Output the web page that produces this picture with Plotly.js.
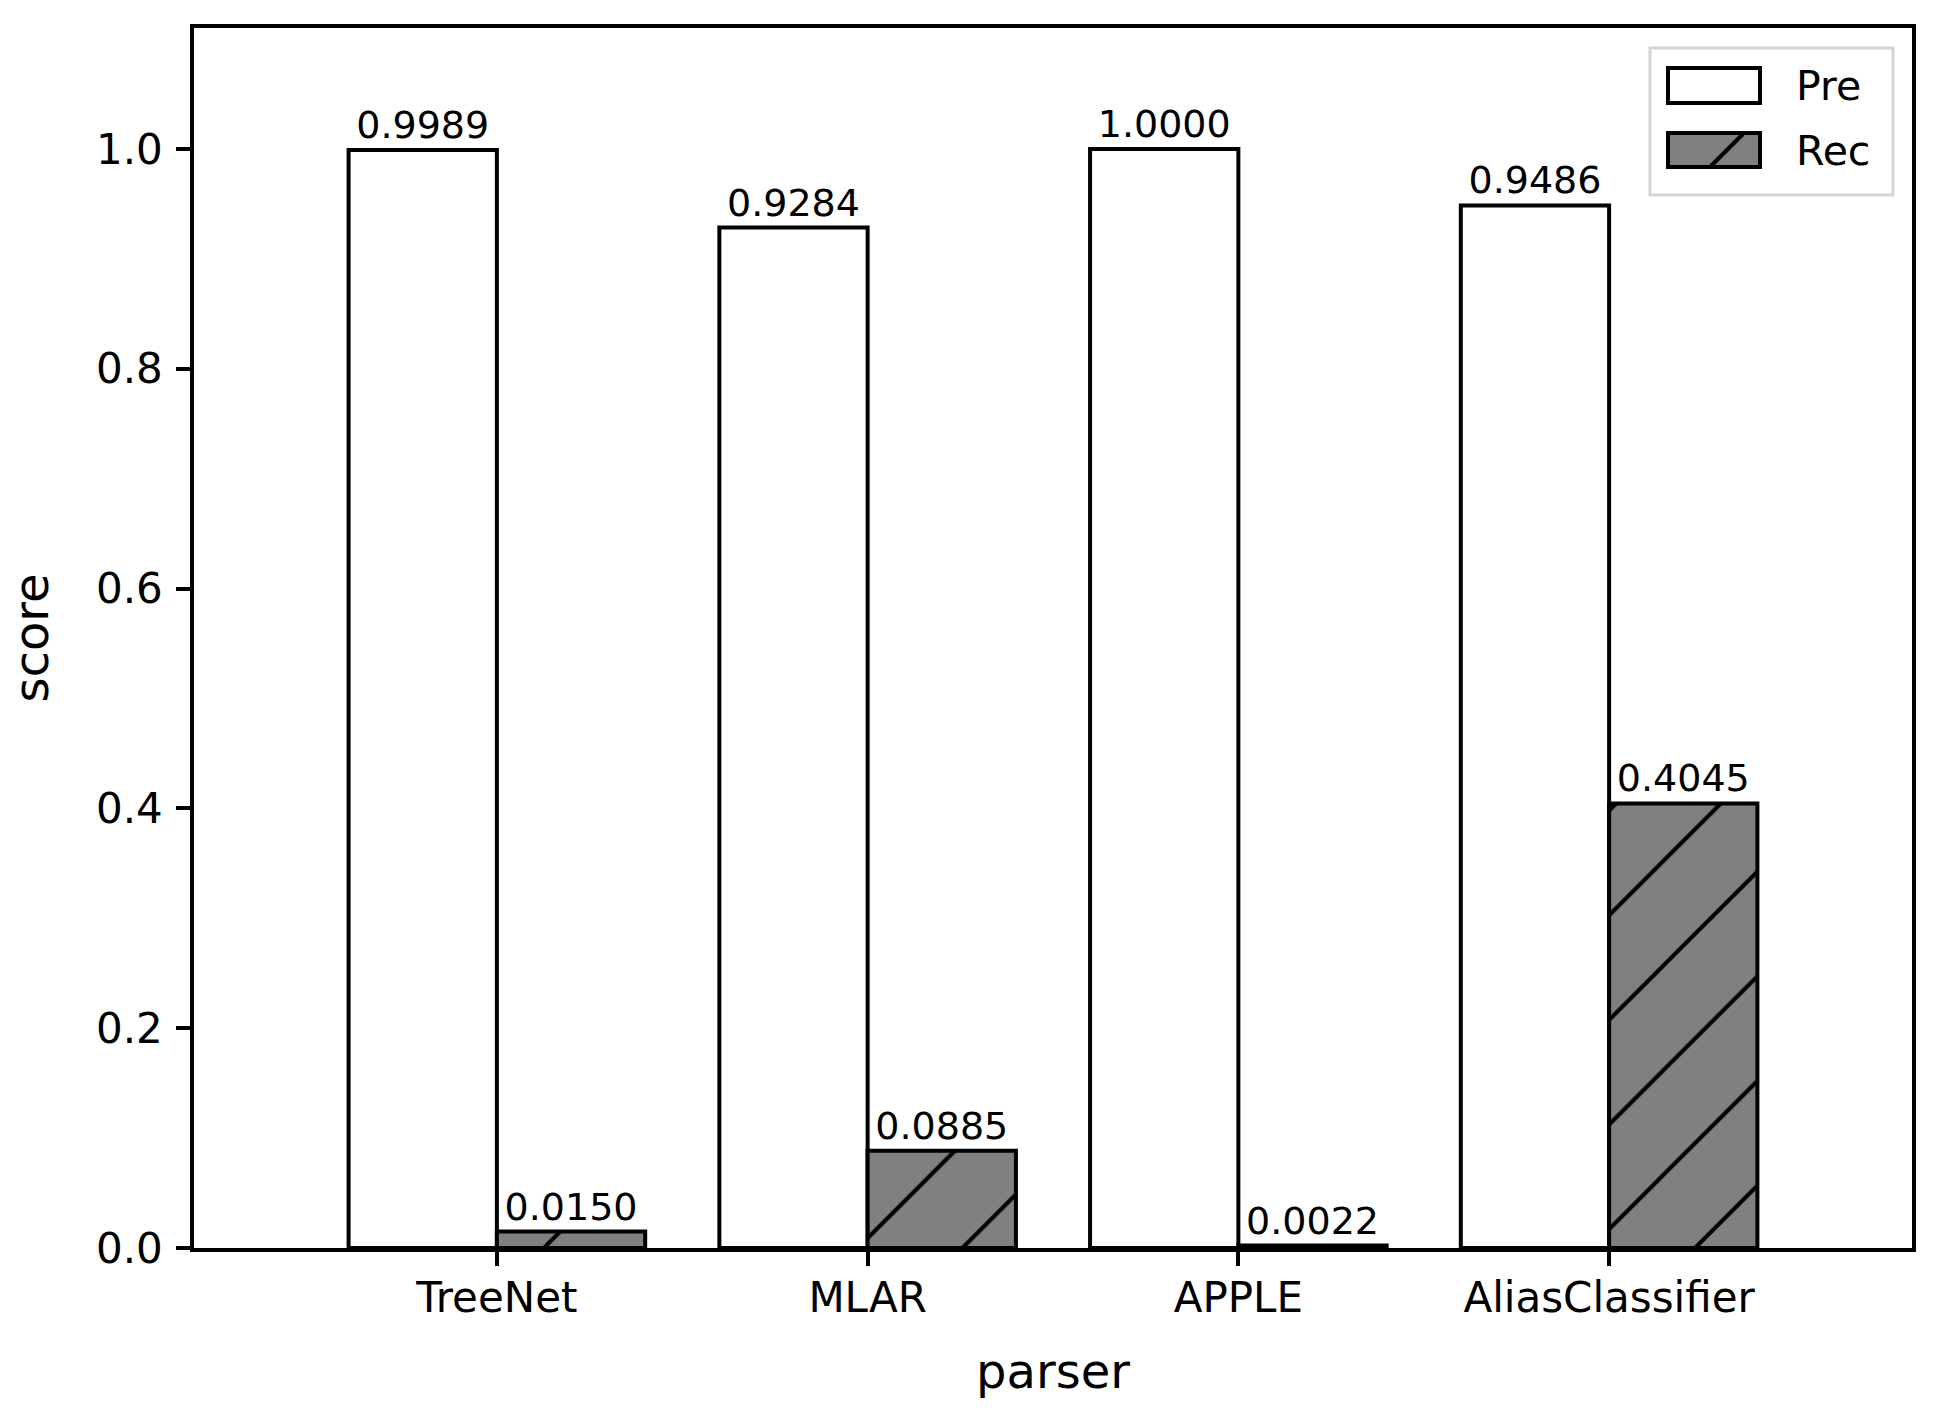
<!DOCTYPE html>
<html>
<head>
<meta charset="utf-8">
<script src="https://cdn.plot.ly/plotly-3.0.1.min.js"></script>
<style>
  html, body { margin: 0; padding: 0; background: #fff; }
  #plotArea { width: 1939px; height: 1426px; }
</style>
</head>
<body>
<div id="plotArea"></div>
<script>
// data
var parsers = ["TreeNet", "MLAR", "APPLE", "AliasClassifier"];
var xPos = [0, 1, 2, 3];
var preScores = [0.9989, 0.9284, 1.0000, 0.9486];
var recScores = [0.0150, 0.0885, 0.0022, 0.4045];
var yTicks = [0, 0.2, 0.4, 0.6, 0.8, 1.0];
var seriesNames = ["Pre", "Rec"];

var font = "DejaVu Sans, sans-serif";
var recGray = "#808080";

// plot area in pixels (used only to place the hand-made legend)
var M = {l: 194, r: 27, t: 28, b: 178};
var W = 1939, H = 1426;
function px(x) { return (x - M.l) / (W - M.l - M.r); }
function py(y) { return (H - M.b - y) / (H - M.t - M.b); }

var pre = {
    x: xPos,
    y: preScores,
    name: seriesNames[0],
    type: "bar",
    marker: {color: "white", line: {color: "black", width: 4}},
    texttemplate: "%{y:.4f}",
    textposition: "outside",
    constraintext: "none",
    cliponaxis: false,
    textfont: {family: font, size: 38, color: "black"}
};

var rec = {
    x: xPos,
    y: recScores,
    name: seriesNames[1],
    type: "bar",
    marker: {
        color: recGray,
        line: {color: "black", width: 4},
        pattern: {shape: "/", size: 74, solidity: 0.055, fgcolor: "black", fgopacity: 1, bgcolor: recGray, fillmode: "overlay"}
    },
    texttemplate: "%{y:.4f}",
    textposition: "outside",
    constraintext: "none",
    cliponaxis: false,
    textfont: {family: font, size: 38, color: "black"}
};

// legend, matplotlib style (wide swatches)
var shapes = [
    {type: "rect", xref: "paper", yref: "paper", layer: "above",
     x0: px(1650), x1: px(1893), y0: py(195), y1: py(48),
     fillcolor: "white", line: {color: "#d3d3d3", width: 3}},
    {type: "rect", xref: "paper", yref: "paper", layer: "above",
     x0: px(1668), x1: px(1760), y0: py(103), y1: py(68),
     fillcolor: "white", line: {color: "black", width: 4}},
    {type: "rect", xref: "paper", yref: "paper", layer: "above",
     x0: px(1668), x1: px(1760), y0: py(167), y1: py(133),
     fillcolor: recGray, line: {color: "black", width: 4}},
    {type: "line", xref: "paper", yref: "paper", layer: "above",
     x0: px(1711), x1: px(1743), y0: py(166), y1: py(134),
     line: {color: "black", width: 4}}
];
var annotations = [
    {xref: "paper", yref: "paper", x: px(1794), y: py(86), xanchor: "left", yanchor: "middle",
     text: seriesNames[0], showarrow: false, font: {family: font, size: 41, color: "black"}},
    {xref: "paper", yref: "paper", x: px(1794), y: py(151), xanchor: "left", yanchor: "middle",
     text: seriesNames[1], showarrow: false, font: {family: font, size: 41, color: "black"}}
];

var layout = {
    width: W,
    height: H,
    margin: M,
    paper_bgcolor: "white",
    plot_bgcolor: "white",
    font: {family: font, color: "black", size: 42},
    barmode: "group",
    bargap: 0.2,
    bargroupgap: 0,
    showlegend: false,
    shapes: shapes,
    annotations: annotations,
    xaxis: {
        range: [-0.817, 3.817],
        tickvals: xPos,
        ticktext: parsers,
        ticks: "outside", ticklen: 14, tickwidth: 3.5, tickcolor: "black",
        ticklabelstandoff: -4,
        showline: true, linecolor: "black", linewidth: 3.5, mirror: true,
        showgrid: false, zeroline: false,
        tickfont: {size: 42},
        title: {text: "parser", font: {size: 48}, standoff: 34}
    },
    yaxis: {
        range: [0, 1.11],
        tickvals: yTicks,
        tickformat: ".1f",
        ticks: "outside", ticklen: 14, tickwidth: 3.5, tickcolor: "black",
        ticklabelstandoff: 5,
        showline: true, linecolor: "black", linewidth: 3.5, mirror: true,
        showgrid: false, zeroline: false,
        tickfont: {size: 42},
        title: {text: "score", font: {size: 48}, standoff: 33}
    }
};

Plotly.newPlot("plotArea", [pre, rec], layout, {displayModeBar: false});
</script>
</body>
</html>
